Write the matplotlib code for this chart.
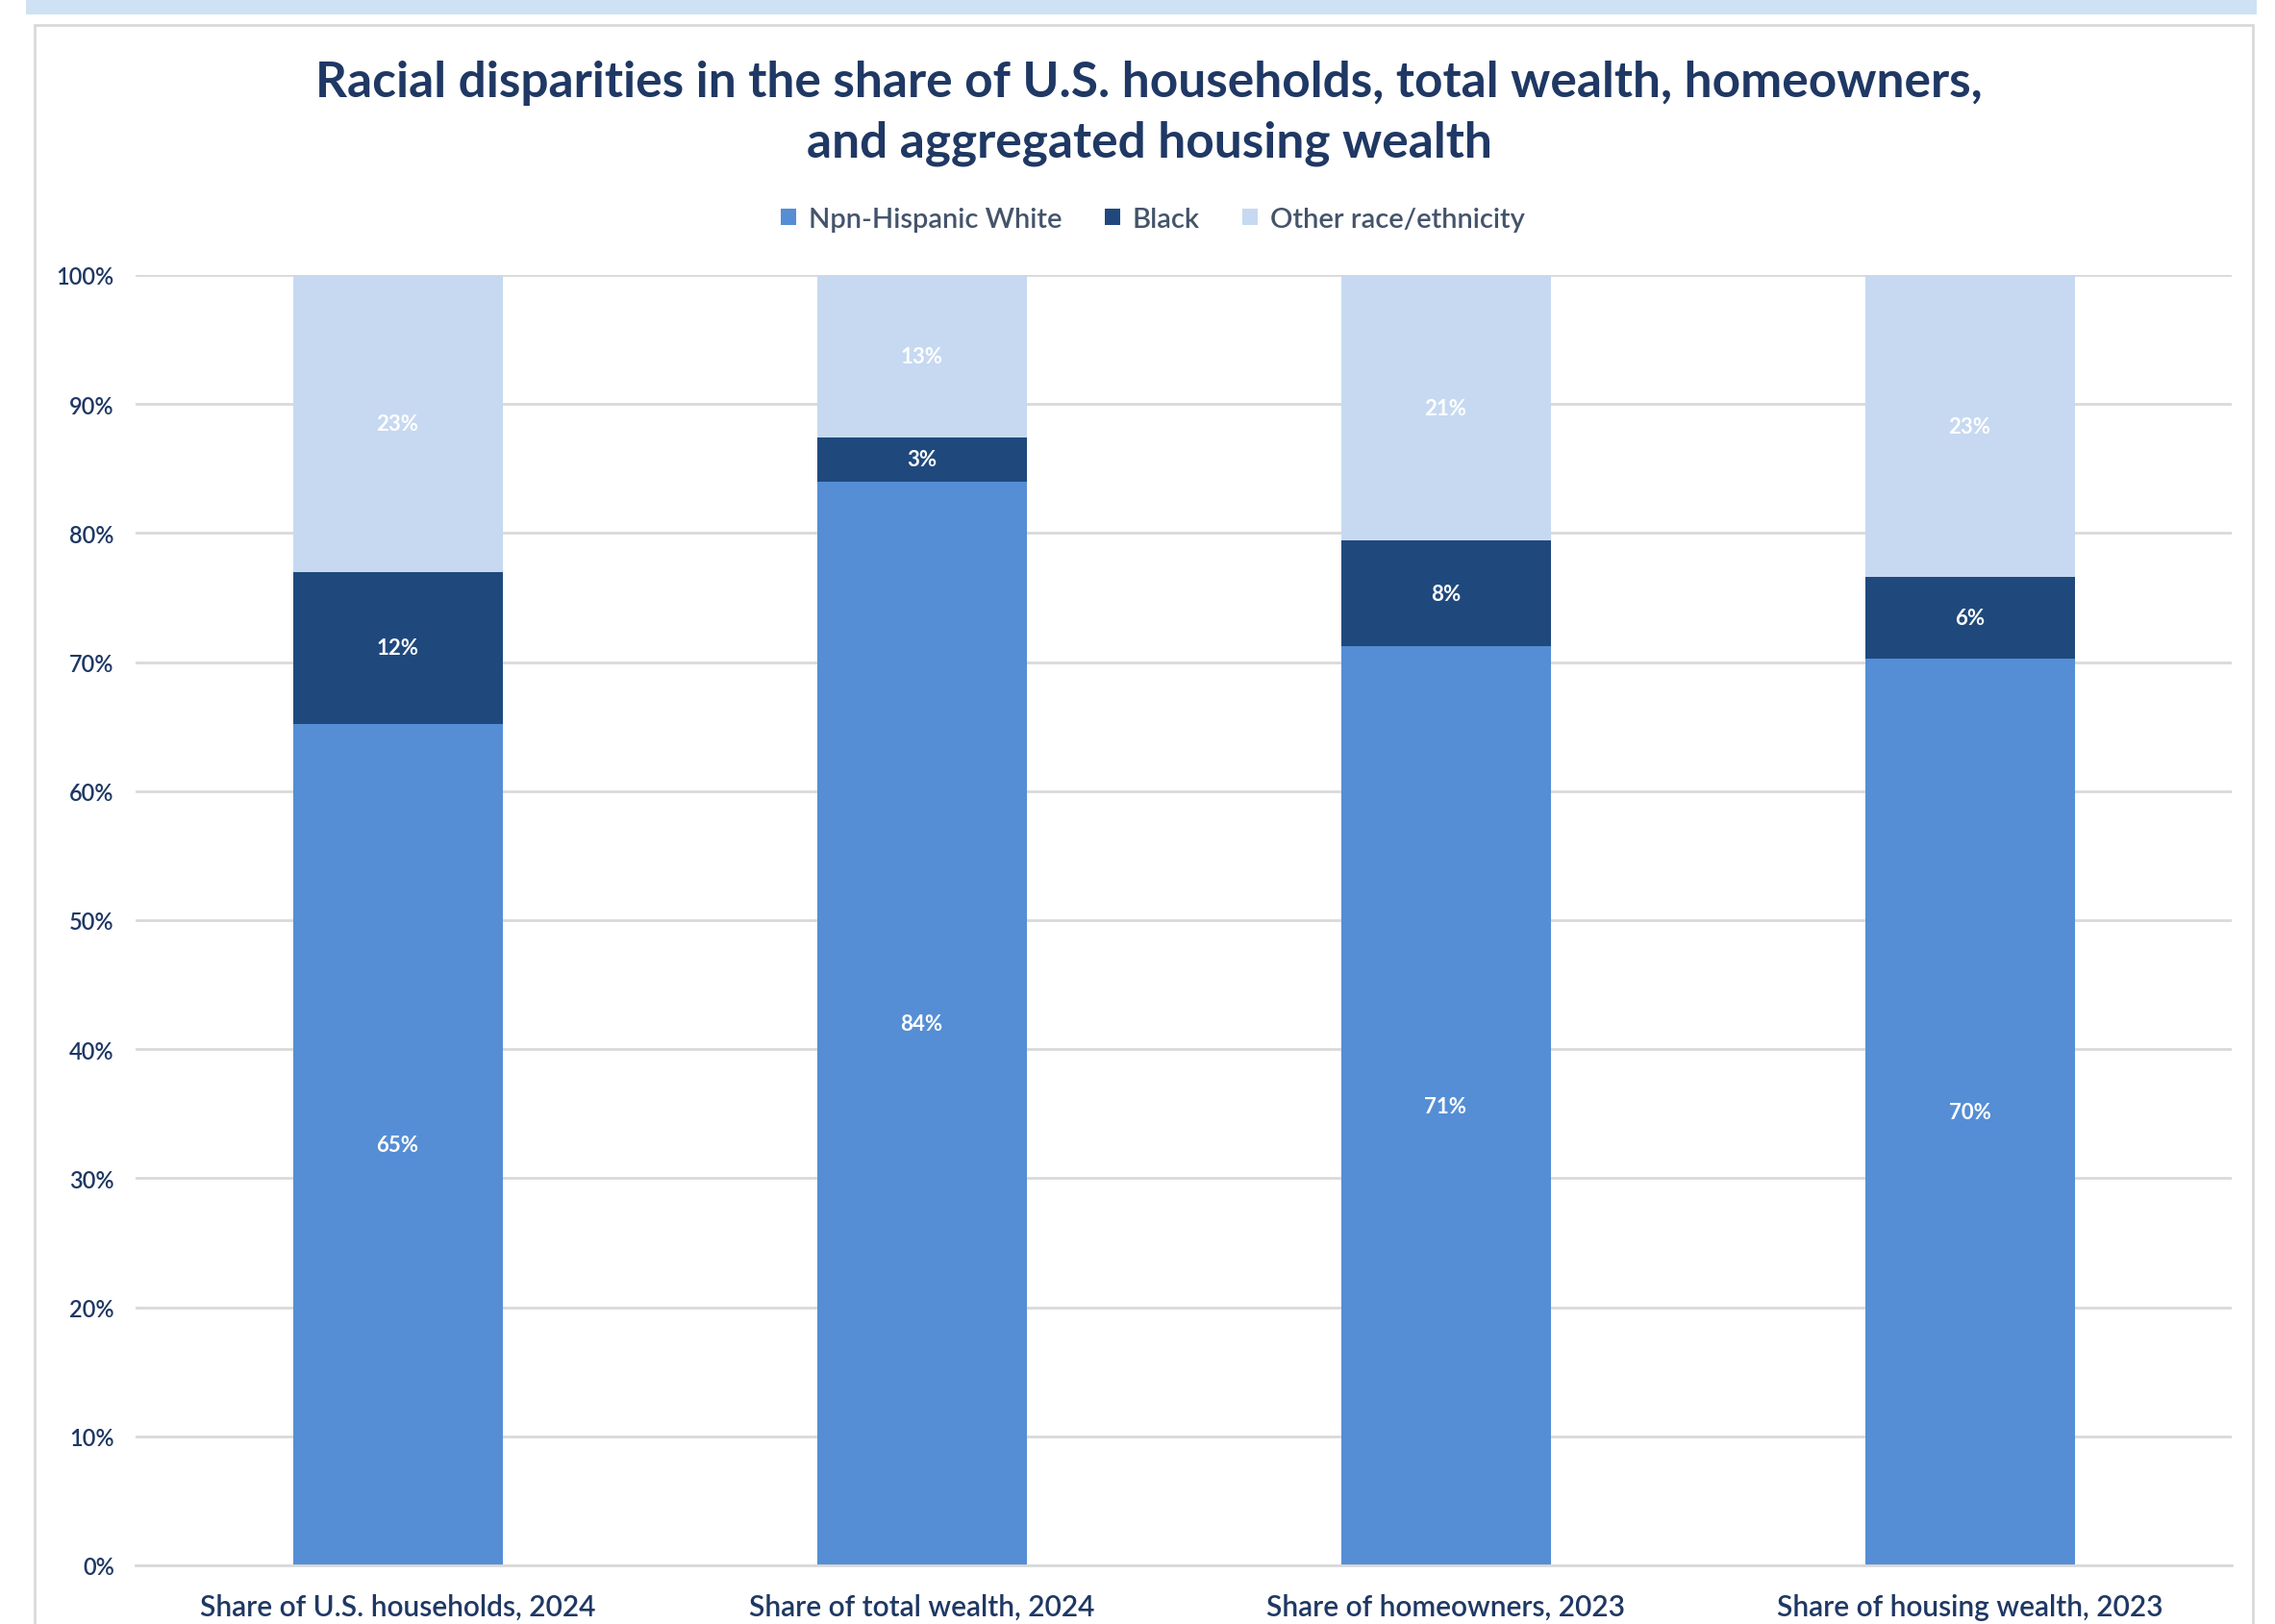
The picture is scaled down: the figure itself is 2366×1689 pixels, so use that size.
import matplotlib.pyplot as plt
import numpy as np
from matplotlib.patches import Rectangle, Patch

# ---------------------------------------------------------
# DATA (percent of each total)
# ---------------------------------------------------------
categories = [
    "Share of U.S. households, 2024",
    "Share of total wealth, 2024",
    "Share of homeowners, 2023",
    "Share of housing wealth, 2023",
]
white_share = [65.2, 84.0, 71.2, 70.3]
black_share = [11.8, 3.4, 8.2, 6.3]
other_share = [23.0, 12.6, 20.6, 23.4]

series_names = ["Npn-Hispanic White", "Black", "Other race/ethnicity"]
series_colors = ["#558ED5", "#1F497D", "#C6D9F1"]

TITLE = ("Racial disparities in the share of U.S. households, total wealth, homeowners,\n"
         "and aggregated housing wealth")

# ---------------------------------------------------------
# FIGURE
# ---------------------------------------------------------
W, H, DPI = 2366, 1690, 100
plt.rcParams['font.family'] = ['Lato', 'DejaVu Sans']

fig = plt.figure(figsize=(W / DPI, H / DPI), dpi=DPI)
fig.patch.set_facecolor("white")

# light blue strip along the top and the framed chart panel
fig.add_artist(Rectangle((27 / W, 1 - 16 / H), 2320 / W, 16 / H,
                         transform=fig.transFigure, facecolor="#CFE2F3",
                         edgecolor="none", zorder=0))
fig.add_artist(Rectangle((36 / W, -0.01), 2307 / W, 1 - 27 / H + 0.01,
                         transform=fig.transFigure, facecolor="white",
                         edgecolor="#D9D9D9", linewidth=2, zorder=0))

ax = fig.add_axes([141 / W, 61 / H, 2180 / W, 1342 / H])
ax.set_facecolor("none")

x = np.arange(len(categories))
bar_w = 0.4
bottoms = np.zeros(len(categories))
for vals, name, col in zip([white_share, black_share, other_share],
                           series_names, series_colors):
    vals = np.array(vals)
    ax.bar(x, vals, bar_w, bottom=bottoms, color=col, label=name, zorder=2)
    for xi, b, v in zip(x, bottoms, vals):
        ax.text(xi, b + v / 2, f"{round(v):d}%", ha="center", va="center",
                color="white", fontsize=16, fontweight="bold", zorder=3)
    bottoms += vals

ax.set_xlim(-0.5, len(categories) - 0.5)
ax.set_ylim(0, 100)
ax.set_yticks(np.arange(0, 101, 10))
ax.set_yticklabels([f"{v}%" for v in range(0, 101, 10)], fontweight="semibold")
ax.yaxis.grid(True, color="#D9D9D9", linewidth=2, zorder=0)
ax.set_axisbelow(True)
ax.set_xticks(x)
ax.set_xticklabels(categories, fontweight="semibold")
ax.tick_params(axis="y", length=0, pad=16, labelsize=17, labelcolor="#1F3864")
ax.tick_params(axis="x", length=0, pad=21, labelsize=21.5, labelcolor="#1F3864")
for s in ["top", "right", "left"]:
    ax.spines[s].set_visible(False)
ax.spines["bottom"].set_color("#D9D9D9")
ax.spines["bottom"].set_linewidth(2)

fig.text(1195 / W, 1 - 118 / H, TITLE, ha="center", va="center",
         fontsize=37, fontweight="bold", color="#1F3864", linespacing=1.4)

handles = [Patch(facecolor=c, edgecolor="none") for c in series_colors]
fig.legend(handles, series_names, loc="center", ncol=3,
           bbox_to_anchor=(1199 / W, 1 - 229 / H), frameon=False,
           prop={"size": 21, "weight": "semibold"}, labelcolor="#44546A",
           handlelength=0.55, handleheight=0.55, handletextpad=0.45,
           columnspacing=1.5)

fig.savefig("out.png", dpi=DPI)
